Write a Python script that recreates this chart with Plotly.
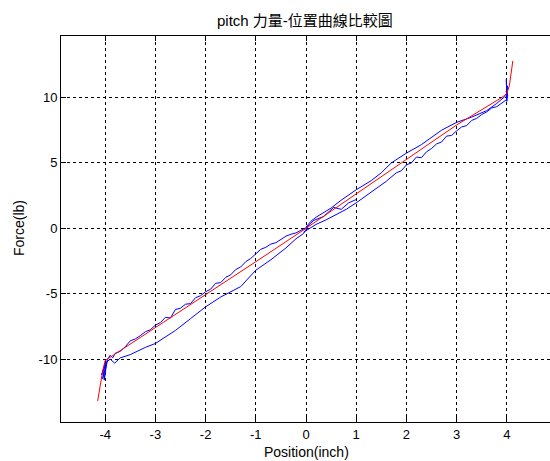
import plotly.graph_objects as go

# Reference (red) curve
red_x = [-4.15, -4.1, -4.05, -4.0, -3.9, -3.0, -2.0, -1.0, 0.0, 1.0, 2.0, 3.0, 3.9, 4.0, 4.05, 4.08, 4.12]
red_y = [-13.2, -12.0, -10.9, -10.1, -9.85, -7.55, -5.1, -2.55, 0.0, 2.62, 5.3, 7.9, 10.0, 10.3, 10.9, 11.6, 12.8]

# Measured (blue) curve: left upper branch (jagged)
bl_up_x = [-3.95, -3.9, -3.85, -3.8, -3.7, -3.6, -3.5, -3.4, -3.3, -3.2, -3.1, -3.0, -2.9, -2.8, -2.7,
           -2.6, -2.5, -2.4, -2.3, -2.2, -2.1, -2.0, -1.9, -1.8, -1.7, -1.6, -1.5, -1.4, -1.3, -1.2,
           -1.1, -1.0, -0.9, -0.8, -0.7, -0.6, -0.5, -0.4, -0.3, -0.2, -0.1, 0.0]
bl_up_y = [-10.0, -9.7, -9.9, -9.55, -9.4, -9.05, -8.6, -8.45, -8.2, -7.9, -7.75, -7.4, -7.2, -6.8, -6.85,
           -6.2, -6.1, -5.8, -5.75, -5.3, -5.15, -4.85, -4.65, -4.2, -4.15, -3.75, -3.55, -3.15, -2.95, -2.55,
           -2.3, -1.95, -1.6, -1.45, -1.2, -1.1, -0.85, -0.6, -0.45, -0.35, -0.15, 0.05]

# left lower branch (smooth)
bl_lo_x = [-3.97, -3.9, -3.81, -3.7, -3.5, -3.2, -3.0, -2.6, -2.3, -2.0, -1.7, -1.3, -1.0, -0.7, -0.4, -0.2, -0.05, 0.05]
bl_lo_y = [-10.2, -10.0, -10.3, -9.9, -9.65, -9.1, -8.8, -7.8, -6.9, -6.0, -5.25, -4.45, -3.2, -2.4, -1.5, -0.8, -0.4, 0.2]

# right upper branch
br_up_x = [0.0, 0.1, 0.2, 0.3, 0.5, 0.7, 1.0, 1.3, 1.5, 1.7, 2.0, 2.3, 2.5, 2.7, 3.0, 3.3, 3.6, 3.8, 4.0]
br_up_y = [0.1, 0.55, 0.85, 1.1, 1.55, 2.15, 2.95, 3.65, 4.25, 5.0, 5.75, 6.4, 6.95, 7.5, 8.1, 8.5, 9.0, 9.55, 10.2]

# right lower branch (jagged)
br_lo_x = [-0.05, 0.1, 0.2, 0.4, 0.6, 0.8, 1.0, 1.2, 1.4, 1.6, 1.8, 1.9, 2.0, 2.1, 2.2, 2.3, 2.4, 2.5, 2.6, 2.7,
           2.8, 2.9, 3.0, 3.1, 3.2, 3.3, 3.4, 3.5, 3.6, 3.7, 3.8, 3.9, 4.0]
br_lo_y = [-0.3, 0.1, 0.3, 0.65, 1.05, 1.45, 1.95, 2.5, 3.0, 3.6, 4.25, 4.4, 4.85, 5.0, 5.45, 5.4, 5.85, 6.1, 6.45, 6.6,
           7.05, 7.1, 7.45, 7.75, 7.85, 8.25, 8.4, 8.7, 8.9, 9.2, 9.3, 9.6, 9.85]

# small extra loop near the origin
mid_x = [0.0, 0.15, 0.35, 0.55, 0.7, 0.85, 1.0]
mid_y = [0.0, 0.6, 0.9, 1.6, 1.45, 1.95, 2.2]

# end spikes
sp_r_x = [4.0, 3.99, 4.0, 4.01, 4.0, 3.99, 4.02]
sp_r_y = [9.8, 11.4, 10.0, 10.9, 9.7, 10.5, 10.1]
sp_l_x = [-3.95, -4.05, -4.0, -4.07, -3.98, -4.02, -3.96]
sp_l_y = [-10.0, -11.5, -10.3, -11.2, -10.2, -11.6, -10.1]

x_ticks = [-4, -3, -2, -1, 0, 1, 2, 3, 4]
x_tick_text = ["-4", "-3", "-2", "-1", "0", "1", "2", "3", "4"]
y_ticks = [-10, -5, 0, 5, 10]
y_tick_text = ["-10", "-5", "0", "5", "10"]

FONT = "Liberation Sans, Arial, Noto Sans CJK TC, sans-serif"
BLUE = "rgb(0,0,255)"
RED = "rgb(255,0,0)"

fig = go.Figure()
for xs, ys in [(bl_up_x, bl_up_y), (bl_lo_x, bl_lo_y), (br_up_x, br_up_y), (br_lo_x, br_lo_y),
               (mid_x, mid_y), (sp_r_x, sp_r_y), (sp_l_x, sp_l_y)]:
    fig.add_trace(go.Scatter(x=xs, y=ys, mode="lines", line=dict(color=BLUE, width=1),
                             showlegend=False, hoverinfo="skip"))
fig.add_trace(go.Scatter(x=red_x, y=red_y, mode="lines", line=dict(color=RED, width=1),
                         showlegend=False, hoverinfo="skip"))

fig.update_layout(
    width=550, height=461,
    margin=dict(l=61, r=0, t=36, b=39),
    paper_bgcolor="white", plot_bgcolor="white",
    font=dict(family=FONT, size=13, color="black"),
    showlegend=False,
)
fig.add_annotation(text="pitch 力量-位置曲線比較圖", x=(305 - 61) / 489, y=1 + (36 - 20) / 386,
                   xref="paper", yref="paper", showarrow=False, font=dict(size=15, family=FONT),
                   xanchor="center", yanchor="middle")
fig.add_annotation(text="Position(inch)", x=(306 - 61) / 489, y=-(452 - 422) / 386,
                   xref="paper", yref="paper", showarrow=False, font=dict(size=14, family=FONT),
                   xanchor="center", yanchor="middle")
fig.add_annotation(text="Force(lb)", x=-(61 - 19) / 489, y=(422 - 228) / 386,
                   xref="paper", yref="paper", showarrow=False, textangle=-90,
                   font=dict(size=14, family=FONT), xanchor="center", yanchor="middle")

fig.update_xaxes(
    range=[-4.88, 4.86], tickvals=x_ticks, ticktext=x_tick_text,
    showgrid=True, gridcolor="black", gridwidth=1, griddash="3px,3px",
    zeroline=False, showline=True, linecolor="black", linewidth=1, mirror="ticks",
    ticks="inside", ticklen=5, tickcolor="black", tickfont=dict(size=13, family=FONT),
    fixedrange=True,
)
fig.update_yaxes(
    range=[-14.8, 14.7], tickvals=y_ticks, ticktext=y_tick_text,
    showgrid=True, gridcolor="black", gridwidth=1, griddash="3px,3px",
    zeroline=False, showline=True, linecolor="black", linewidth=1,
    ticks="inside", ticklen=5, tickcolor="black", tickfont=dict(size=13, family=FONT),
    fixedrange=True,
)

fig.write_html("out.html", config=dict(displayModeBar=False))
